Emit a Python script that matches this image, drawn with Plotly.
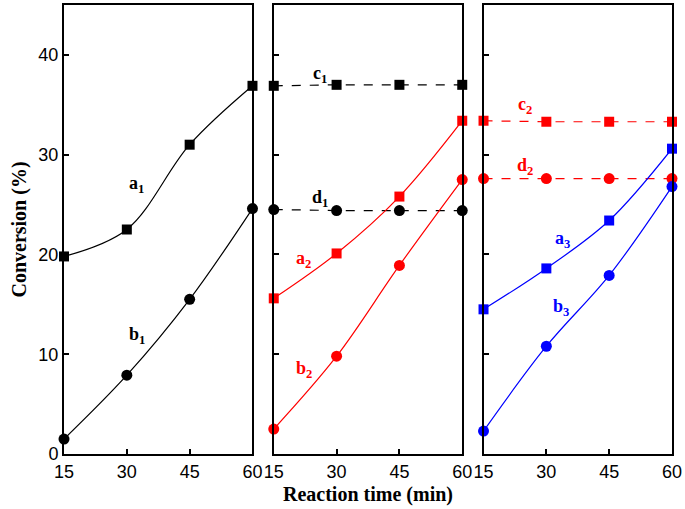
import plotly.graph_objects as go

time = [15, 30, 45, 60]

# panel 1 (black)
a1 = [19.8, 22.5, 31.0, 36.9]
b1 = [1.5, 7.9, 15.5, 24.6]
# panel 2
c1 = [36.9, 37.0, 37.0, 37.0]
d1 = [24.5, 24.4, 24.4, 24.4]
a2 = [15.6, 20.1, 25.8, 33.4]
b2 = [2.5, 9.8, 18.9, 27.5]
# panel 3
c2 = [33.4, 33.3, 33.3, 33.3]
d2 = [27.6, 27.6, 27.6, 27.6]
a3 = [14.5, 18.6, 23.4, 30.6]
b3 = [2.3, 10.8, 17.9, 26.8]

BLACK, RED, BLUE = "#000000", "#ff0000", "#0000ff"

series = [
    # (values, color, symbol, dash, panel)
    (a1, BLACK, "square", "solid", 1),
    (b1, BLACK, "circle", "solid", 1),
    (c1, BLACK, "square", "dash", 2),
    (d1, BLACK, "circle", "dash", 2),
    (a2, RED, "square", "solid", 2),
    (b2, RED, "circle", "solid", 2),
    (c2, RED, "square", "dash", 3),
    (d2, RED, "circle", "dash", 3),
    (a3, BLUE, "square", "solid", 3),
    (b3, BLUE, "circle", "solid", 3),
]

fig = go.Figure()
for vals, color, sym, dash, p in series:
    sfx = "" if p == 1 else str(p)
    fig.add_trace(go.Scatter(
        x=time, y=vals, xaxis="x" + sfx, yaxis="y" + sfx,
        mode="lines+markers",
        line=dict(color=color, width=1.2, dash=dash,
                  shape="linear" if dash == "dash" else "spline"),
        marker=dict(color=color, symbol=sym, size=10 if sym == "square" else 11),
        cliponaxis=False, showlegend=False,
    ))

# curve labels: (text, x, y, color, panel)
labels = [
    ("a<sub>1</sub>", 32.4, 27.0, BLACK, 1),
    ("b<sub>1</sub>", 32.4, 11.9, BLACK, 1),
    ("c<sub>1</sub>", 26.0, 38.0, BLACK, 2),
    ("d<sub>1</sub>", 26.0, 25.6, BLACK, 2),
    ("a<sub>2</sub>", 22.1, 19.5, RED, 2),
    ("b<sub>2</sub>", 22.1, 8.5, RED, 2),
    ("c<sub>2</sub>", 24.8, 34.9, RED, 3),
    ("d<sub>2</sub>", 24.8, 28.8, RED, 3),
    ("a<sub>3</sub>", 33.8, 21.5, BLUE, 3),
    ("b<sub>3</sub>", 33.6, 14.7, BLUE, 3),
]
for txt, x, y, color, p in labels:
    sfx = "" if p == 1 else str(p)
    fig.add_annotation(
        x=x, y=y, xref="x" + sfx, yref="y" + sfx, text="<b>" + txt + "</b>",
        showarrow=False, font=dict(family="Liberation Serif", size=18, color=color),
    )

tickfont = dict(family="Liberation Sans", size=18, color="black")
axis_common = dict(
    showline=True, linewidth=2, linecolor="black", mirror=True,
    ticks="inside", ticklen=5, tickwidth=1.5, tickcolor="black",
    showgrid=False, zeroline=False, tickfont=tickfont,
)
xcommon = dict(axis_common, range=[15, 60], tickvals=time)
ycommon = dict(axis_common, range=[0, 45], tickvals=[0, 10, 20, 30, 40])

domains = [[0.0, 0.310], [0.345, 0.655], [0.690, 1.0]]

fig.update_layout(
    width=685, height=509,
    margin=dict(l=64, r=12, t=3, b=55),
    paper_bgcolor="white", plot_bgcolor="white",
    xaxis=dict(xcommon, domain=domains[0], anchor="y"),
    xaxis2=dict(xcommon, domain=domains[1], anchor="y2",
                title=dict(text="<b>Reaction time (min)</b>", standoff=6,
                           font=dict(family="Liberation Serif", size=20, color="black"))),
    xaxis3=dict(xcommon, domain=domains[2], anchor="y3"),
    yaxis=dict(ycommon, anchor="x",
               title=dict(text="<b>Conversion (%)</b>", standoff=6,
                          font=dict(family="Liberation Serif", size=20, color="black"))),
    yaxis2=dict(ycommon, anchor="x2", showticklabels=False),
    yaxis3=dict(ycommon, anchor="x3", showticklabels=False),
)

fig.write_html("out.html", config={"displayModeBar": False},
               post_script="document.body.style.margin='0';")
